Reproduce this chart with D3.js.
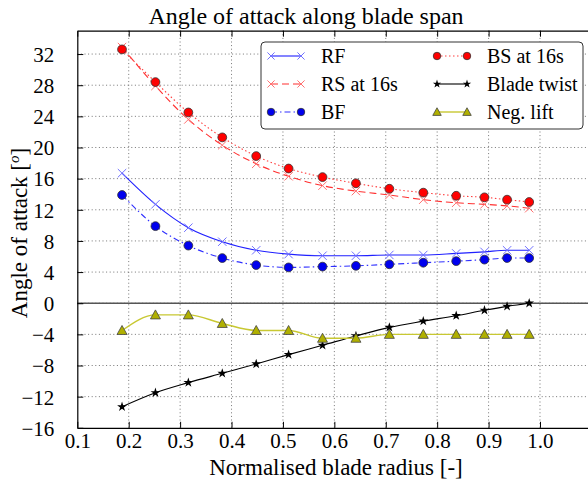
<!DOCTYPE html>
<html>
<head>
<meta charset="utf-8">
<script src="https://cdn.jsdelivr.net/npm/d3@7"></script>
<style>
  html, body { margin: 0; padding: 0; background: #fff; overflow: hidden; }
  svg { display: block; }
  svg text { font-family: "Liberation Serif", "Times New Roman", "DejaVu Serif", serif !important; }
</style>
</head>
<body>
<svg id="chart" width="588" height="484"></svg>
<script>
// Normalised radial stations along the blade
const radius = [0.187, 0.252, 0.316, 0.382, 0.448, 0.511, 0.577, 0.642, 0.707, 0.773, 0.837, 0.892, 0.936, 0.979];

// Angle of attack per case [deg]
const rf = [16.7, 12.7, 9.7, 7.9, 6.8, 6.3, 6.1, 6.1, 6.2, 6.2, 6.4, 6.6, 6.8, 6.8];
const rsAt16 = [32.9, 27.9, 23.6, 20.3, 17.9, 16.3, 15.1, 14.4, 13.9, 13.3, 12.9, 12.7, 12.5, 12.2];
const bf = [13.9, 9.9, 7.4, 5.8, 4.9, 4.6, 4.7, 4.8, 5.0, 5.2, 5.4, 5.6, 5.8, 5.8];
const bsAt16 = [32.6, 28.4, 24.5, 21.3, 18.9, 17.3, 16.2, 15.4, 14.7, 14.2, 13.8, 13.6, 13.3, 13.0];
const bladeTwist = [-13.3, -11.5, -10.2, -9.0, -7.8, -6.6, -5.4, -4.2, -3.1, -2.3, -1.6, -0.9, -0.4, 0.0];
const negLift = [-3.5, -1.5, -1.5, -2.6, -3.5, -3.5, -4.5, -4.5, -4.0, -4.0, -4.0, -4.0, -4.0, -4.0];

// Axis ticks (the 1.1 position lies on the clipped right edge, so it carries no label)
const xTicks = [0.1, 0.2, 0.3, 0.4, 0.5, 0.6, 0.7, 0.8, 0.9, 1.0, 1.1];
const xTickLabels = ["0.1", "0.2", "0.3", "0.4", "0.5", "0.6", "0.7", "0.8", "0.9", "1.0", ""];
const yTicks = [-16, -12, -8, -4, 0, 4, 8, 12, 16, 20, 24, 28, 32];

const svg = d3.select("#chart");
const pLeft = 77.3, pTop = 30.7, pRight = 591.4, pBottom = 427.8;

const x = d3.scaleLinear().domain([0.1, 1.1]).range([pLeft, pRight]);
const y = d3.scaleLinear().domain([-16, 35]).range([pBottom, pTop]);

svg.append("defs").append("clipPath").attr("id", "plotClip")
  .append("rect").attr("x", pLeft).attr("y", pTop).attr("width", pRight - pLeft).attr("height", pBottom - pTop);

// Grid
const grid = svg.append("g");
grid.selectAll("line.gx").data(xTicks.slice(1)).join("line")
  .attr("x1", d => x(d)).attr("x2", d => x(d)).attr("y1", pTop).attr("y2", pBottom)
  .attr("stroke", "#666").attr("stroke-width", 0.9).attr("stroke-dasharray", "1,2.6");
grid.selectAll("line.gy").data(yTicks.slice(1)).join("line")
  .attr("x1", pLeft).attr("x2", pRight).attr("y1", d => y(d)).attr("y2", d => y(d))
  .attr("stroke", "#666").attr("stroke-width", 0.9).attr("stroke-dasharray", "1,2.6");

// Zero line
svg.append("line").attr("x1", pLeft).attr("x2", pRight).attr("y1", y(0)).attr("y2", y(0))
  .attr("stroke", "#555").attr("stroke-width", 1.6);

// Axes (ticks pointing inward)
const xAxisB = d3.axisBottom(x).tickValues(xTicks).tickFormat((d, i) => xTickLabels[i]).tickSizeInner(-6).tickSizeOuter(0);
const gxB = svg.append("g").attr("transform", `translate(0,${pBottom})`).call(xAxisB);
const xAxisT = d3.axisTop(x).tickValues(xTicks).tickFormat("").tickSizeInner(-6).tickSizeOuter(0);
const gxT = svg.append("g").attr("transform", `translate(0,${pTop})`).call(xAxisT);
const yAxis = d3.axisLeft(y).tickValues(yTicks).tickFormat(d => d < 0 ? "\u2212" + Math.abs(d) : String(d)).tickSizeInner(-6).tickSizeOuter(0);
const gy = svg.append("g").attr("transform", `translate(${pLeft},0)`).call(yAxis);

[gxB, gxT, gy].forEach(g => {
  g.attr("font-family", null);
  g.selectAll(".domain").attr("stroke", "#000").attr("stroke-width", 1.2);
  g.selectAll(".tick line").attr("stroke", "#000").attr("stroke-width", 1);
  g.selectAll(".tick text").attr("font-size", 21).attr("fill", "#000");
});
gy.selectAll(".tick text").attr("text-anchor", "end").attr("x", -23).attr("dy", "0.35em");
gxB.selectAll(".tick text").attr("y", 5).attr("dy", "0.71em");

// Series
const curve = d3.curveMonotoneX;
const plot = svg.append("g").attr("clip-path", "url(#plotClip)");

const series = [
  { name: "RF", values: rf, color: "#2020ff", dash: null, marker: "x", mcolor: "#7070ff" },
  { name: "RS at 16s", values: rsAt16, color: "#ff3030", dash: "7,4", marker: "x", mcolor: "#ff7070" },
  { name: "BF", values: bf, color: "#3030ff", dash: "6,3,1.5,3", marker: "circle", mcolor: "#0000ee" },
  { name: "BS at 16s", values: bsAt16, color: "#ff4040", dash: "1.5,2.5", marker: "circle", mcolor: "#ff0000" },
  { name: "Blade twist", values: bladeTwist, color: "#000", dash: null, marker: "star", mcolor: "#000" },
  { name: "Neg. lift", values: negLift, color: "#c8c832", dash: null, marker: "triangle", mcolor: "#b0b000" }
];

function drawMarker(g, type, cx, cy, color, scale) {
  const s = scale || 1;
  if (type === "x") {
    const r = 4.2 * s;
    g.append("path").attr("d", `M${cx - r},${cy - r}L${cx + r},${cy + r}M${cx - r},${cy + r}L${cx + r},${cy - r}`)
      .attr("stroke", color).attr("stroke-width", 1).attr("fill", "none");
  } else if (type === "circle") {
    g.append("circle").attr("cx", cx).attr("cy", cy).attr("r", 4.4 * s)
      .attr("fill", color).attr("stroke", "#333").attr("stroke-width", 0.8);
  } else if (type === "star") {
    g.append("path").attr("d", d3.symbol(d3.symbolStar, 30 * s * s)())
      .attr("transform", `translate(${cx},${cy})`).attr("fill", "#000");
  } else if (type === "triangle") {
    const r = 5 * s;
    g.append("path").attr("d", `M${cx},${cy - r}L${cx + r},${cy + r * 0.8}L${cx - r},${cy + r * 0.8}Z`)
      .attr("fill", color).attr("stroke", "#444").attr("stroke-width", 0.8);
  }
}

series.forEach(s => {
  const pts = radius.map((r, i) => [x(r), y(s.values[i])]);
  plot.append("path").attr("d", d3.line().curve(curve)(pts))
    .attr("fill", "none").attr("stroke", s.color).attr("stroke-width", s.name === "Neg. lift" ? 1.4 : 1.1)
    .attr("stroke-dasharray", s.dash);
  const mg = plot.append("g");
  pts.forEach(p => drawMarker(mg, s.marker, p[0], p[1], s.mcolor));
});

// Legend
const lg = svg.append("g");
lg.append("rect").attr("x", 261).attr("y", 42).attr("width", 322).attr("height", 87).attr("rx", 4)
  .attr("fill", "#fff").attr("stroke", "#333").attr("stroke-width", 1);
const legendCols = [{ lx1: 271, lx2: 301, tx: 321 }, { lx1: 437, lx2: 467, tx: 487 }];
const legendRows = [56, 84, 112];
series.forEach((s, i) => {
  const col = legendCols[Math.floor(i / 3)];
  const ry = legendRows[i % 3];
  lg.append("line").attr("x1", col.lx1).attr("x2", col.lx2).attr("y1", ry).attr("y2", ry)
    .attr("stroke", s.color).attr("stroke-width", s.name === "Neg. lift" ? 1.4 : 1.1).attr("stroke-dasharray", s.dash);
  drawMarker(lg, s.marker, col.lx1, ry, s.mcolor, 0.85);
  drawMarker(lg, s.marker, col.lx2, ry, s.mcolor, 0.85);
  lg.append("text").attr("x", col.tx).attr("y", ry).attr("dy", "0.35em")
    .attr("font-size", 20).attr("fill", "#000").text(s.name);
});

// Titles
svg.append("text").attr("x", 306).attr("y", 24).attr("text-anchor", "middle")
  .attr("font-size", 24).attr("fill", "#000").text("Angle of attack along blade span");
svg.append("text").attr("x", 336).attr("y", 475).attr("text-anchor", "middle")
  .attr("font-size", 23).attr("fill", "#000").text("Normalised blade radius [-]");
const yl = svg.append("text").attr("transform", "translate(27,233) rotate(-90)").attr("text-anchor", "middle")
  .attr("font-size", 23).attr("fill", "#000");
yl.append("tspan").text("Angle of attack [");
yl.append("tspan").attr("font-style", "italic").attr("font-size", 15).attr("baseline-shift", "super").text("o");
yl.append("tspan").text("]");
</script>
</body>
</html>
